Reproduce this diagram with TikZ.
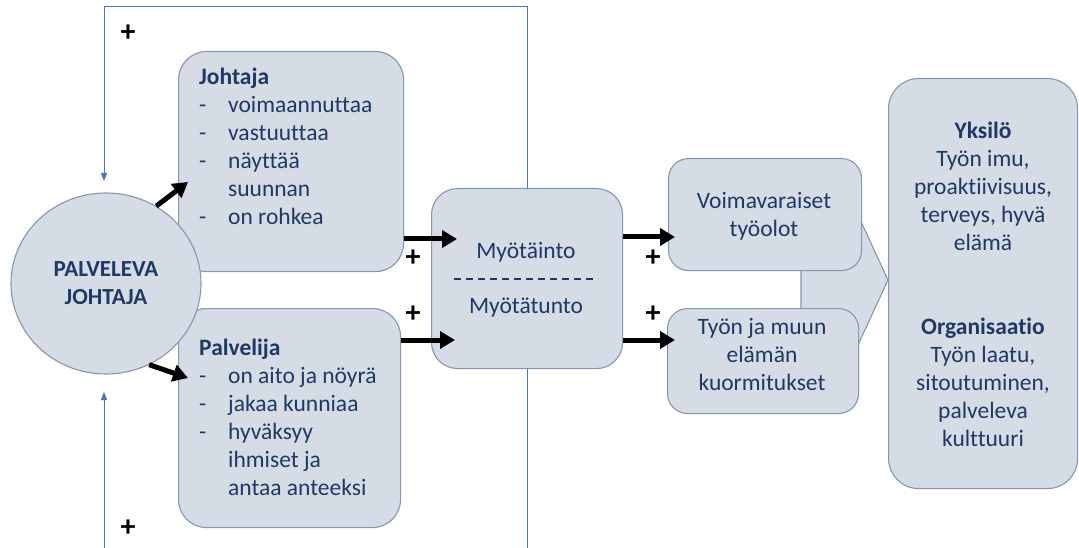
\documentclass[tikz,border=0pt]{standalone}
\usepackage{fontspec}
\setmainfont{Carlito}[Ligatures={NoCommon}]
\usetikzlibrary{arrows.meta,shapes.geometric}
\definecolor{panelfill}{HTML}{D6DCE5}
\definecolor{panelline}{HTML}{8497B0}
\definecolor{navy}{HTML}{1F3864}
\definecolor{loopline}{HTML}{4A74B5}
\newcommand\listdash{\makebox[29pt][l]{-}}
\newcommand\listgap{\hspace*{29pt}}

\begin{document}
\begin{tikzpicture}[x=1pt,y=-1pt,
  panel/.style={draw=panelline, fill=panelfill, line width=1.1pt,
    rounded corners=#1, inner sep=0pt, anchor=north west},
  panel/.default=22pt,
  body/.style={font=\fontsize{23.5}{28}\selectfont, text=navy, inner sep=0pt},
  flow/.style={line width=5pt, -{Triangle[length=15pt,width=17pt]}},
  loop/.style={draw=loopline, line width=1pt},
  loopend/.style={-{Triangle[length=8pt,width=6pt]}},
  sign/.style={font=\fontsize{30}{30}\selectfont\bfseries, inner sep=0pt},
]
\useasboundingbox (0,0) rectangle (1079,548);
\fill[white] (0,0) rectangle (1079,548);

% feedback loop coordinates
\coordinate (topL) at (104,7);
\coordinate (inTop) at (104,181);
\coordinate (botL) at (104,548);
\coordinate (inBot) at (104,392);

% big arrow behind the two condition boxes
\draw[draw=panelline, fill=panelfill, line width=1.1pt]
  (801,200) -- (851,200) -- (888,280) -- (851,360) -- (801,360) -- cycle;

% boxes
\node[panel=28pt, minimum width=225pt, minimum height=220pt] (johtaja) at (178,51) {};
\node[panel=28pt, minimum width=222pt, minimum height=219pt] (palvelija) at (178,308) {};
\node[panel=26pt, minimum width=191pt, minimum height=180pt] (mid) at (431,188) {};
\node[panel=20pt, minimum width=193pt, minimum height=112pt] (voima) at (668,158) {};
\node[panel=20pt, minimum width=191pt, minimum height=105pt] (kuorma) at (667,308) {};
\node[panel=30pt, minimum width=189pt, minimum height=410pt] (tulos) at (888,78) {};

% leader
\node[ellipse, draw=panelline, fill=panelfill, line width=1.1pt,
      minimum width=190pt, minimum height=181pt, inner sep=0pt] (circ) at (106,283.5) {};
\node[font=\fontsize{23}{28}\selectfont\bfseries, text=navy, align=center, inner sep=0pt]
  (circtext) at (106,283.5) {PALVELEVA\\JOHTAJA};

% feedback loop
\draw[loop, loopend] (mid.north) -- (mid.north |- topL) -- (topL) -- (inTop);
\draw[loop] (mid.south) -- (mid.south |- botL);
\draw[loop, loopend] (botL) -- (inBot);

% flow arrows
\coordinate (jtip) at (188,182);
\coordinate (ptip) at (188,378);
\coordinate (a1) at (457,239);
\coordinate (a2) at (455,340);
\coordinate (a3) at (675,237);
\coordinate (a4) at (675,340);
\draw[flow] (circ.57) -- (jtip);
\draw[flow] (circ.-62) -- (ptip);
\draw[flow] (a1 -| johtaja.east) -- (a1);
\draw[flow] (a2 -| palvelija.east) -- (a2);
\draw[flow] (a3 -| mid.east) -- (a3);
\draw[flow] (a4 -| mid.east) -- (a4);

% texts
\node[body, anchor=north west, align=left] (jtext) at (199,68)
  {\textbf{Johtaja}\\\listdash voimaannuttaa\\\listdash vastuuttaa\\\listdash näyttää\\\listgap suunnan\\\listdash on rohkea};
\node[body, anchor=north west, align=left] (ptext) at (199,339)
  {\textbf{Palvelija}\\\listdash on aito ja nöyrä\\\listdash jakaa kunniaa\\\listdash hyväksyy\\\listgap ihmiset ja\\\listgap antaa anteeksi};

\node[body] (m1) at (526,252) {Myötäinto};
\node[body] (m2) at (526,308) {Myötätunto};
\coordinate (dl) at (454,279);
\coordinate (dr) at (598,279);
\draw[navy, line width=1.2pt, dash pattern=on 7pt off 5pt] (dl) -- (dr);

\node[body, align=center] (vtext) at (764,216) {Voimavaraiset\\työolot};
\node[body, align=center] (ktext) at (762,355) {Työn ja muun\\elämän\\kuormitukset};

\node[body, align=center] (ytext) at (983,186)
  {\textbf{Yksilö}\\Työn imu,\\proaktiivisuus,\\terveys, hyvä\\elämä};
\node[body, align=center] (otext) at (983,382)
  {\textbf{Organisaatio}\\Työn laatu,\\sitoutuminen,\\palveleva\\kulttuuri};

% signs
\node[sign] (s1) at (128,33) {+};
\node[sign] (s2) at (128,528) {+};
\node[sign] (s3) at (413,258) {+};
\node[sign] (s4) at (413,314) {+};
\node[sign] (s5) at (653,258) {+};
\node[sign] (s6) at (653,314) {+};
\end{tikzpicture}
\end{document}
